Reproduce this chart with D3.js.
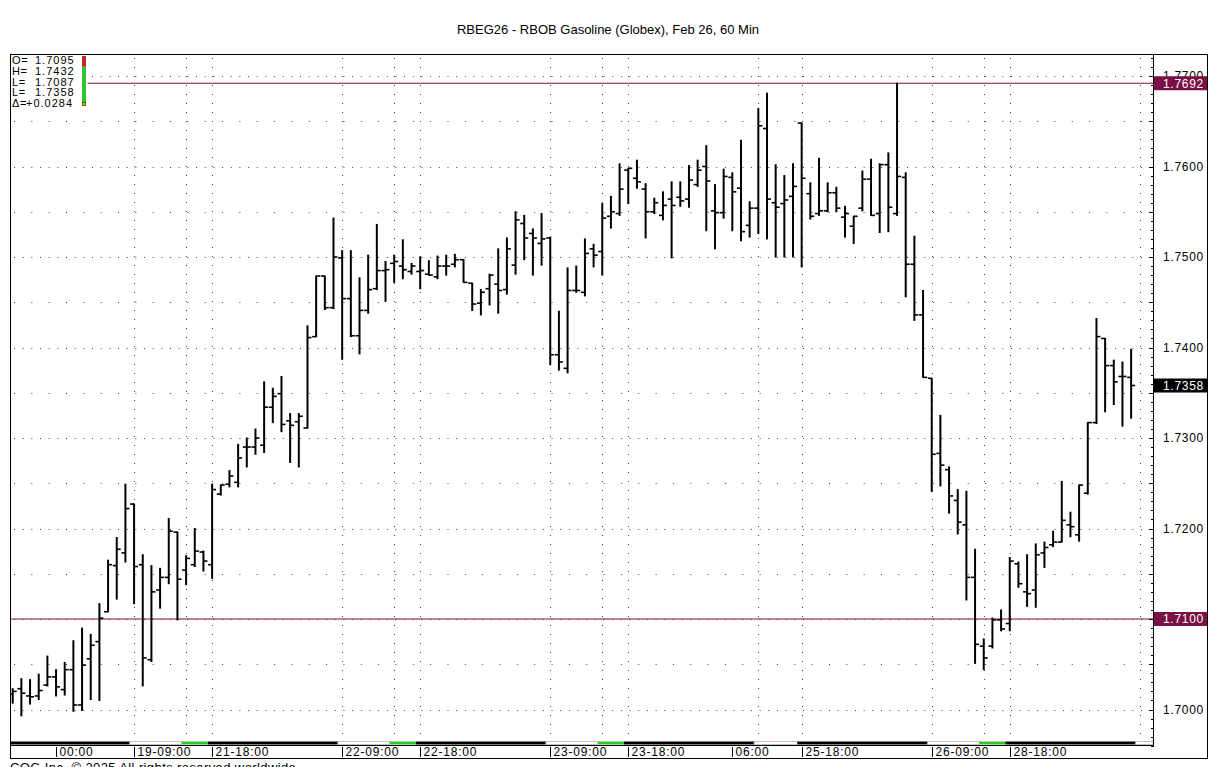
<!DOCTYPE html>
<html>
<head>
<meta charset="utf-8">
<script src="https://cdn.jsdelivr.net/npm/d3@7"></script>
<style>
  body { margin: 0; background: #fff; }
  svg { display: block; font-family: "Liberation Sans", Arial, sans-serif; }
</style>
</head>
<body>
<script>
// 60 min bars
const opens = [
  1.7017, 1.7023, 1.7015, 1.7015, 1.7027, 1.7036, 1.7022, 1.7044, 1.7005, 1.7056,
  1.7075, 1.7108, 1.7159, 1.7173, 1.7227, 1.7160, 1.7055, 1.7132, 1.7146, 1.7196,
  1.7154, 1.7160, 1.7174, 1.7160, 1.7238, 1.7249, 1.7251, 1.7290, 1.7290, 1.7292,
  1.7334, 1.7349, 1.7319, 1.7318, 1.7311, 1.7412, 1.7479, 1.7444, 1.7499, 1.7454,
  1.7413, 1.7441, 1.7465, 1.7485, 1.7493, 1.7490, 1.7484, 1.7484, 1.7481, 1.7478,
  1.7490, 1.7492, 1.7497, 1.7471, 1.7449, 1.7465, 1.7470, 1.7464, 1.7491, 1.7537,
  1.7526, 1.7515, 1.7521, 1.7392, 1.7377, 1.7463, 1.7461, 1.7509, 1.7506, 1.7545,
  1.7548, 1.7596, 1.7587, 1.7575, 1.7550, 1.7546, 1.7564, 1.7566, 1.7564, 1.7580,
  1.7600, 1.7551, 1.7549, 1.7588, 1.7576, 1.7535, 1.7554, 1.7642, 1.7560, 1.7559,
  1.7567, 1.7648, 1.7570, 1.7548, 1.7551, 1.7571, 1.7544, 1.7534, 1.7554, 1.7586,
  1.7548, 1.7602, 1.7548, 1.7588, 1.7492, 1.7436, 1.7366, 1.7283, 1.7265, 1.7231,
  1.7204, 1.7146, 1.7070, 1.7070, 1.7099, 1.7095, 1.7161, 1.7130, 1.7132, 1.7173,
  1.7182, 1.7185, 1.7204, 1.7193, 1.7239, 1.7317, 1.7410, 1.7380, 1.7368, 1.7367
];
const highs = [
  1.7023, 1.7034, 1.7033, 1.7039, 1.7059, 1.7044, 1.7052, 1.7076, 1.7090, 1.7083,
  1.7117, 1.7165, 1.7190, 1.7249, 1.7227, 1.7171, 1.7159, 1.7156, 1.7211, 1.7196,
  1.7170, 1.7200, 1.7175, 1.7249, 1.7248, 1.7264, 1.7293, 1.7300, 1.7310, 1.7362,
  1.7355, 1.7368, 1.7327, 1.7327, 1.7424, 1.7479, 1.7479, 1.7543, 1.7507, 1.7507,
  1.7477, 1.7502, 1.7536, 1.7495, 1.7502, 1.7519, 1.7493, 1.7500, 1.7496, 1.7501,
  1.7502, 1.7503, 1.7497, 1.7471, 1.7464, 1.7481, 1.7509, 1.7521, 1.7550, 1.7546,
  1.7531, 1.7548, 1.7522, 1.7440, 1.7488, 1.7490, 1.7520, 1.7514, 1.7559, 1.7567,
  1.7603, 1.7598, 1.7607, 1.7581, 1.7565, 1.7572, 1.7583, 1.7583, 1.7601, 1.7607,
  1.7623, 1.7580, 1.7597, 1.7593, 1.7629, 1.7561, 1.7664, 1.7681, 1.7602, 1.7590,
  1.7603, 1.7648, 1.7582, 1.7609, 1.7582, 1.7577, 1.7556, 1.7545, 1.7595, 1.7608,
  1.7603, 1.7615, 1.7692, 1.7593, 1.7523, 1.7463, 1.7366, 1.7325, 1.7268, 1.7243,
  1.7241, 1.7177, 1.7078, 1.7101, 1.7110, 1.7168, 1.7163, 1.7171, 1.7183, 1.7185,
  1.7197, 1.7252, 1.7218, 1.7248, 1.7317, 1.7432, 1.7410, 1.7386, 1.7384, 1.7398
];
const lows = [
  1.7007, 1.6993, 1.7006, 1.7011, 1.7026, 1.7015, 1.7016, 1.6998, 1.6999, 1.7011,
  1.7010, 1.7108, 1.7122, 1.7163, 1.7117, 1.7026, 1.7053, 1.7112, 1.7139, 1.7099,
  1.7138, 1.7158, 1.7153, 1.7145, 1.7237, 1.7246, 1.7246, 1.7268, 1.7282, 1.7284,
  1.7317, 1.7307, 1.7273, 1.7268, 1.7311, 1.7412, 1.7442, 1.7443, 1.7387, 1.7412,
  1.7393, 1.7438, 1.7464, 1.7451, 1.7472, 1.7476, 1.7481, 1.7465, 1.7480, 1.7476,
  1.7480, 1.7489, 1.7472, 1.7441, 1.7436, 1.7447, 1.7438, 1.7459, 1.7481, 1.7497,
  1.7480, 1.7491, 1.7381, 1.7375, 1.7372, 1.7461, 1.7457, 1.7489, 1.7480, 1.7532,
  1.7546, 1.7559, 1.7576, 1.7521, 1.7548, 1.7541, 1.7499, 1.7556, 1.7555, 1.7578,
  1.7529, 1.7509, 1.7543, 1.7529, 1.7518, 1.7522, 1.7526, 1.7520, 1.7500, 1.7500,
  1.7500, 1.7489, 1.7542, 1.7546, 1.7550, 1.7550, 1.7522, 1.7515, 1.7551, 1.7546,
  1.7527, 1.7528, 1.7546, 1.7456, 1.7430, 1.7367, 1.7241, 1.7247, 1.7217, 1.7194,
  1.7121, 1.7051, 1.7044, 1.7068, 1.7087, 1.7087, 1.7135, 1.7114, 1.7113, 1.7157,
  1.7180, 1.7185, 1.7191, 1.7186, 1.7238, 1.7316, 1.7329, 1.7337, 1.7313, 1.7322
];
const closes = [
  1.7020, 1.7018, 1.7014, 1.7021, 1.7036, 1.7025, 1.7044, 1.7005, 1.7049, 1.7071,
  1.7101, 1.7160, 1.7177, 1.7222, 1.7158, 1.7057, 1.7130, 1.7146, 1.7197, 1.7144,
  1.7167, 1.7175, 1.7164, 1.7243, 1.7248, 1.7258, 1.7278, 1.7290, 1.7300, 1.7334,
  1.7346, 1.7315, 1.7314, 1.7324, 1.7411, 1.7479, 1.7444, 1.7500, 1.7454, 1.7413,
  1.7441, 1.7464, 1.7485, 1.7486, 1.7495, 1.7486, 1.7490, 1.7485, 1.7480, 1.7490,
  1.7490, 1.7497, 1.7472, 1.7448, 1.7461, 1.7480, 1.7463, 1.7509, 1.7541, 1.7521,
  1.7521, 1.7520, 1.7392, 1.7384, 1.7463, 1.7463, 1.7504, 1.7502, 1.7543, 1.7550,
  1.7575, 1.7598, 1.7583, 1.7550, 1.7560, 1.7557, 1.7557, 1.7562, 1.7585, 1.7596,
  1.7584, 1.7549, 1.7589, 1.7572, 1.7528, 1.7554, 1.7645, 1.7564, 1.7555, 1.7563,
  1.7578, 1.7587, 1.7545, 1.7551, 1.7571, 1.7554, 1.7548, 1.7545, 1.7586, 1.7546,
  1.7602, 1.7555, 1.7589, 1.7492, 1.7436, 1.7367, 1.7282, 1.7270, 1.7236, 1.7207,
  1.7146, 1.7072, 1.7057, 1.7099, 1.7089, 1.7164, 1.7139, 1.7128, 1.7171, 1.7179,
  1.7185, 1.7209, 1.7202, 1.7248, 1.7317, 1.7412, 1.7380, 1.7362, 1.7368, 1.7358
];

const gridBars = [14, 20, 23, 38, 44, 47, 62, 68, 71, 86, 91, 106, 112, 115, 130];
const sessionStarts = [0, 14, 20, 23, 38, 44, 47, 62, 68, 71, 86, 91, 106, 112, 115, 130];
const sessionKinds = ["day", "off", "pre", "day", "off", "pre", "day", "off", "pre",
                      "day", "off", "day", "off", "pre", "day", "off"];
const labelBars = [5, 14, 23, 38, 47, 62, 71, 83, 91, 106, 115];
const labelTexts = ["00:00", "19-09:00", "21-18:00", "22-09:00", "22-18:00", "23-09:00",
                    "23-18:00", "06:00", "25-18:00", "26-09:00", "28-18:00"];
const priceLabels = [1.70, 1.71, 1.72, 1.73, 1.74, 1.75, 1.76, 1.77];
const markerValues = [1.7692, 1.7358, 1.7100];
const markerColors = ["#7b1045", "#000000", "#7b1045"];
const markerLines = [true, false, true];
const infoLabels = ["O=", "H=", "L=", "L=", "\u0394="];
const infoValues = ["1.7095", "1.7432", "1.7087", "1.7358", "+0.0284"];
const sessionHigh = 1.7432, sessionLow = 1.7087, lastPrice = 1.7358;

const W = 1213, H = 767;
const pLeft = 10, plotRight = 1153, axisRight = 1207, pTop = 54, plotBottom = 745, labelBottom = 758;
const maroon = "#7b1045";

const svg = d3.select("body").append("svg").attr("width", W).attr("height", H);

const x = d3.scaleLinear().domain([0, 129]).range([12.7, 12.7 + 129 * 8.67]);
const y = d3.scaleLinear().domain([1.70, 1.77]).range([709.5, 76]);

svg.append("text")
  .attr("x", 608).attr("y", 34)
  .attr("text-anchor", "middle")
  .style("font-size", "13px")
  .text("RBEG26 - RBOB Gasoline (Globex), Feb 26, 60 Min");

svg.append("defs").append("clipPath").attr("id", "plot")
  .append("rect").attr("x", pLeft).attr("y", pTop).attr("width", plotRight - pLeft).attr("height", plotBottom - pTop);

const g = svg.append("g").attr("clip-path", "url(#plot)");

// horizontal dotted grid
const rows = d3.range(0, 15).map(k => ({ v: 1.70 + k * 0.005, major: k % 2 === 0 }));
g.selectAll("line.row").data(rows).join("line")
  .attr("class", "row")
  .attr("x1", pLeft + 4).attr("x2", plotRight - 2)
  .attr("y1", d => Math.round(y(d.v)) + 0.5).attr("y2", d => Math.round(y(d.v)) + 0.5)
  .attr("stroke", "#444").attr("stroke-width", 1)
  .attr("stroke-dasharray", d => d.major ? "1,7.67" : "1,16.34");

// vertical dotted grid
g.selectAll("line.col").data(gridBars).join("line")
  .attr("class", "col")
  .attr("x1", d => Math.round(x(d)) + 0.5).attr("x2", d => Math.round(x(d)) + 0.5)
  .attr("y1", pTop + 4).attr("y2", 740)
  .attr("stroke", "#444").attr("stroke-width", 1)
  .attr("stroke-dasharray", "1,8");

// marker lines
g.selectAll("line.mark").data(markerValues.filter((_, i) => markerLines[i])).join("line")
  .attr("class", "mark")
  .attr("x1", pLeft).attr("x2", plotRight)
  .attr("y1", d => y(d)).attr("y2", d => y(d))
  .attr("stroke", maroon).attr("stroke-width", 1.2);

// ohlc bars
const bars = opens.map((o, i) => ({ i, o, h: highs[i], l: lows[i], c: closes[i] }));
const bg = g.append("g").attr("stroke", "#000");
bg.selectAll("line.hl").data(bars).join("line")
  .attr("class", "hl")
  .attr("x1", d => x(d.i)).attr("x2", d => x(d.i))
  .attr("y1", d => y(d.h) - 0.5).attr("y2", d => y(d.l) + 0.5)
  .attr("stroke-width", 2);
bg.selectAll("line.op").data(bars).join("line")
  .attr("class", "op")
  .attr("x1", d => x(d.i) - 4).attr("x2", d => x(d.i))
  .attr("y1", d => y(d.o)).attr("y2", d => y(d.o))
  .attr("stroke-width", 1.6);
bg.selectAll("line.cl").data(bars).join("line")
  .attr("class", "cl")
  .attr("x1", d => x(d.i)).attr("x2", d => x(d.i) + 4)
  .attr("y1", d => y(d.c)).attr("y2", d => y(d.c))
  .attr("stroke-width", 1.6);

// session strip
const segs = sessionStarts.map((s, k) => ({
  x0: k === 0 ? pLeft : x(s - 0.5),
  x1: k === sessionStarts.length - 1 ? plotRight : x(sessionStarts[k + 1] - 0.5),
  kind: sessionKinds[k]
}));
g.selectAll("rect.seg").data(segs).join("rect")
  .attr("class", "seg")
  .attr("x", d => d.x0).attr("y", 741.5)
  .attr("width", d => d.x1 - d.x0).attr("height", 3)
  .attr("fill", d => d.kind === "day" ? "#000" : d.kind === "pre" ? "#2fc52f" : "#fff")
  .attr("stroke", d => d.kind === "off" ? "#999" : "none")
  .attr("stroke-width", 0.6);

// info box
const info = svg.append("g");
info.append("rect").attr("x", pLeft + 0.5).attr("y", pTop + 0.5).attr("width", 77).attr("height", 55).attr("fill", "#fff");
info.selectAll("text.il").data(infoLabels).join("text")
  .attr("class", "il")
  .attr("x", 12).attr("y", (_, i) => 64 + i * 10.8)
  .style("font-size", "11px").style("letter-spacing", "0.6px")
  .text(d => d);
info.selectAll("text.iv").data(infoValues).join("text")
  .attr("class", "iv")
  .attr("x", (_, i) => i === 4 ? 26 : 35).attr("y", (_, i) => 64 + i * 10.8)
  .style("font-size", "11px").style("letter-spacing", "1px")
  .text(d => d);
const rangeY = d3.scaleLinear().domain([sessionHigh, sessionLow]).range([56, 106]);
info.append("rect").attr("x", 82).attr("y", rangeY(sessionHigh)).attr("width", 4)
  .attr("height", rangeY(lastPrice) - rangeY(sessionHigh)).attr("fill", "#c0282a");
info.append("rect").attr("x", 82).attr("y", rangeY(lastPrice)).attr("width", 4)
  .attr("height", rangeY(sessionLow) - rangeY(lastPrice)).attr("fill", "#33c233");
info.append("rect").attr("x", 82.5).attr("y", 102.5).attr("width", 3).attr("height", 3)
  .attr("fill", "#c8c800").attr("stroke", "#333").attr("stroke-width", 0.6);

// frame
const frame = svg.append("g").attr("stroke", "#000").attr("stroke-width", 1).attr("fill", "none");
frame.append("rect").attr("x", pLeft + 0.5).attr("y", pTop + 0.5)
  .attr("width", axisRight - pLeft).attr("height", labelBottom - pTop);
frame.append("line").attr("x1", plotRight + 0.5).attr("x2", plotRight + 0.5).attr("y1", pTop).attr("y2", plotBottom + 0.5);
frame.append("line").attr("x1", pLeft).attr("x2", plotRight + 0.5).attr("y1", plotBottom + 0.5).attr("y2", plotBottom + 0.5);

// right axis ticks
const ticks = d3.range(1696, 1773).map(k => ({ v: k / 1000, major: k % 5 === 0 }));
svg.append("g").selectAll("line").data(ticks).join("line")
  .attr("x1", d => d.major ? plotRight - 4 : plotRight - 2).attr("x2", plotRight + 1)
  .attr("y1", d => Math.round(y(d.v)) + 0.5).attr("y2", d => Math.round(y(d.v)) + 0.5)
  .attr("stroke", "#000").attr("stroke-width", 1);

svg.append("g").selectAll("text").data(priceLabels).join("text")
  .attr("x", 1163).attr("y", d => y(d)).attr("dy", "0.36em")
  .style("font-size", "12px").style("letter-spacing", "0.7px")
  .text(d => d3.format(".4f")(d));

// price markers on the axis
const mk = svg.append("g").selectAll("g").data(markerValues).join("g")
  .attr("transform", d => `translate(0,${y(d)})`);
mk.append("rect").attr("x", plotRight + 1).attr("y", -7).attr("width", axisRight - plotRight - 1).attr("height", 14)
  .attr("fill", (_, i) => markerColors[i]);
mk.append("text").attr("x", 1163).attr("dy", "0.36em")
  .attr("fill", "#fff").style("font-size", "12px").style("letter-spacing", "0.7px")
  .text(d => d3.format(".4f")(d));

// time labels
const tl = svg.append("g").selectAll("g").data(labelBars).join("g")
  .attr("transform", d => `translate(${Math.round(x(d)) + 0.5},0)`);
tl.append("line").attr("y1", 747).attr("y2", 757).attr("stroke", "#000");
tl.append("text").attr("x", 3).attr("y", 755.5)
  .style("font-size", "12px").style("letter-spacing", "0.8px")
  .text((_, i) => labelTexts[i]);

svg.append("text").attr("x", 10).attr("y", 772)
  .style("font-size", "13px").style("letter-spacing", "0.4px")
  .text("CQG Inc. \u00a9 2025 All rights reserved worldwide.");
</script>
</body>
</html>
